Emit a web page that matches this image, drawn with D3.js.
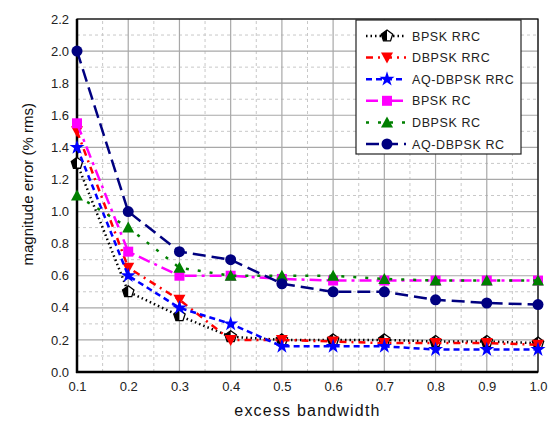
<!DOCTYPE html>
<html>
<head>
<meta charset="utf-8">
<script src="https://cdn.jsdelivr.net/npm/d3@7"></script>
<style>
  body { margin: 0; background: #fff; }
  text { font-family: "Liberation Sans", Arial, sans-serif; }
</style>
</head>
<body>
<div id="chart"></div>
<script>
var xValues = [0.1, 0.2, 0.3, 0.4, 0.5, 0.6, 0.7, 0.8, 0.9, 1.0];
var bpskRrc = [1.30, 0.50, 0.35, 0.22, 0.20, 0.20, 0.20, 0.19, 0.19, 0.18];
var dbpskRrc = [1.50, 0.65, 0.45, 0.20, 0.20, 0.19, 0.18, 0.18, 0.18, 0.17];
var aqDbpskRrc = [1.40, 0.60, 0.40, 0.30, 0.16, 0.16, 0.16, 0.14, 0.14, 0.14];
var bpskRc = [1.55, 0.75, 0.60, 0.60, 0.58, 0.57, 0.57, 0.57, 0.57, 0.57];
var dbpskRc = [1.10, 0.90, 0.65, 0.60, 0.60, 0.60, 0.58, 0.57, 0.57, 0.57];
var aqDbpskRc = [2.00, 1.00, 0.75, 0.70, 0.55, 0.50, 0.50, 0.45, 0.43, 0.42];
var seriesNames = ["BPSK RRC", "DBPSK RRC", "AQ-DBPSK RRC", "BPSK RC", "DBPSK RC", "AQ-DBPSK RC"];
var xTicks = [0.1, 0.2, 0.3, 0.4, 0.5, 0.6, 0.7, 0.8, 0.9, 1.0];
var yTicks = [0, 0.2, 0.4, 0.6, 0.8, 1.0, 1.2, 1.4, 1.6, 1.8, 2.0, 2.2];

var series = [
  { name: seriesNames[0], values: bpskRrc, color: "#000000", dash: "1.5,3", marker: "pentagon" },
  { name: seriesNames[1], values: dbpskRrc, color: "#ff0000", dash: "7,5,2,5", marker: "triDown" },
  { name: seriesNames[2], values: aqDbpskRrc, color: "#0000ff", dash: "6,4", marker: "star" },
  { name: seriesNames[3], values: bpskRc, color: "#ff00ff", dash: "12,5,3,5", marker: "square" },
  { name: seriesNames[4], values: dbpskRc, color: "#008000", dash: "3,9", marker: "triUp" },
  { name: seriesNames[5], values: aqDbpskRc, color: "#000080", dash: "13,6", marker: "circle" }
];

var width = 555, height = 423;
var margin = { left: 77, right: 17, top: 19, bottom: 51 };

var svg = d3.select("#chart").append("svg")
  .attr("width", width)
  .attr("height", height);

var x = d3.scaleLinear().domain([0.1, 1.0]).range([margin.left, width - margin.right]);
var y = d3.scaleLinear().domain([0, 2.2]).range([height - margin.bottom, margin.top]);

// minor grid
var minorX = d3.range(0.15, 1.0, 0.1);
var minorY = d3.range(0.1, 2.2, 0.2);
svg.append("g").selectAll("line").data(minorX).enter().append("line")
  .attr("x1", function (d) { return x(d); }).attr("x2", function (d) { return x(d); })
  .attr("y1", y(0)).attr("y2", y(2.2))
  .attr("stroke", "#c8c8c8").attr("stroke-dasharray", "3,3");
svg.append("g").selectAll("line").data(minorY).enter().append("line")
  .attr("y1", function (d) { return y(d); }).attr("y2", function (d) { return y(d); })
  .attr("x1", x(0.1)).attr("x2", x(1.0))
  .attr("stroke", "#c8c8c8").attr("stroke-dasharray", "3,3");

// major grid
svg.append("g").selectAll("line").data(xTicks).enter().append("line")
  .attr("x1", function (d) { return x(d); }).attr("x2", function (d) { return x(d); })
  .attr("y1", y(0)).attr("y2", y(2.2))
  .attr("stroke", "#a8a8a8").attr("stroke-width", 1.2);
svg.append("g").selectAll("line").data(yTicks).enter().append("line")
  .attr("y1", function (d) { return y(d); }).attr("y2", function (d) { return y(d); })
  .attr("x1", x(0.1)).attr("x2", x(1.0))
  .attr("stroke", "#a8a8a8").attr("stroke-width", 1.2);

// frame
svg.append("rect")
  .attr("x", x(0.1)).attr("y", y(2.2))
  .attr("width", x(1.0) - x(0.1)).attr("height", y(0) - y(2.2))
  .attr("fill", "none").attr("stroke", "#000").attr("stroke-width", 1.2);
svg.append("line").attr("x1", x(0.1)).attr("x2", x(0.1)).attr("y1", y(2.2)).attr("y2", y(0) + 1)
  .attr("stroke", "#000").attr("stroke-width", 2.5);
svg.append("line").attr("x1", x(0.1) - 1).attr("x2", x(1.0)).attr("y1", y(0)).attr("y2", y(0))
  .attr("stroke", "#000").attr("stroke-width", 2.5);

// axes labels
var xAxis = d3.axisBottom(x).tickValues(xTicks).tickSize(0).tickPadding(10).tickFormat(d3.format(".1f"));
var gx = svg.append("g").attr("transform", "translate(0," + y(0) + ")").call(xAxis);
gx.select(".domain").remove();
gx.selectAll("text").attr("font-size", 13).attr("fill", "#222");

var yAxis = d3.axisLeft(y).tickValues(yTicks).tickSize(0).tickPadding(8).tickFormat(d3.format(".1f"));
var gy = svg.append("g").attr("transform", "translate(" + x(0.1) + ",0)").call(yAxis);
gy.select(".domain").remove();
gy.selectAll("text").attr("font-size", 13).attr("fill", "#222");

svg.append("text")
  .attr("x", (x(0.1) + x(1.0)) / 2).attr("y", 416)
  .attr("text-anchor", "middle").attr("font-size", 16).attr("letter-spacing", 1.2).attr("fill", "#111")
  .text("excess bandwidth");
svg.append("text")
  .attr("transform", "translate(33," + y(1.17) + ") rotate(-90)")
  .attr("text-anchor", "middle").attr("font-size", 15).attr("fill", "#111")
  .text("magnitude error (% rms)");

function markerPath(type) {
  if (type === "pentagon") {
    var pts = d3.range(5).map(function (i) {
      var a = -Math.PI / 2 + i * 2 * Math.PI / 5;
      return [6 * Math.cos(a), 6 * Math.sin(a)];
    });
    return "M" + pts.join("L") + "Z";
  }
  if (type === "triDown") return "M-6,-5L6,-5L0,6Z";
  if (type === "triUp") return "M-6,5L6,5L0,-6Z";
  if (type === "star") return d3.symbol().type(d3.symbolStar).size(70)();
  if (type === "square") return d3.symbol().type(d3.symbolSquare).size(100)();
  return d3.symbol().type(d3.symbolCircle).size(95)();
}

function drawMarker(g, s, cx, cy) {
  var m = g.append("g").attr("transform", "translate(" + cx + "," + cy + ")");
  if (s.marker === "pentagon") {
    m.append("path").attr("d", markerPath("pentagon")).attr("fill", "#fff").attr("stroke", "#000").attr("stroke-width", 1.3);
    m.append("path").attr("d", "M0,-6L-5.7,-1.85L-3.5,4.85L0,4.85Z").attr("fill", "#000");
  } else {
    m.append("path").attr("d", markerPath(s.marker)).attr("fill", s.color);
  }
}

var line = d3.line()
  .x(function (d, i) { return x(xValues[i]); })
  .y(function (d) { return y(d); });

series.forEach(function (s) {
  var g = svg.append("g");
  g.append("path")
    .datum(s.values)
    .attr("d", line)
    .attr("fill", "none")
    .attr("stroke", s.color)
    .attr("stroke-width", 2.5)
    .attr("stroke-dasharray", s.dash);
  s.values.forEach(function (v, i) {
    drawMarker(g, s, x(xValues[i]), y(v));
  });
});

// legend
var legend = svg.append("g");
legend.append("rect")
  .attr("x", 356).attr("y", 20).attr("width", 165).attr("height", 134)
  .attr("fill", "#fff").attr("stroke", "#222").attr("stroke-width", 1.2);
series.forEach(function (s, i) {
  var ly = 36 + i * 21.6;
  var g = legend.append("g");
  g.append("line").attr("x1", 366).attr("x2", 406).attr("y1", ly).attr("y2", ly)
    .attr("stroke", s.color).attr("stroke-width", 2.5).attr("stroke-dasharray", s.dash);
  drawMarker(g, s, 387, ly);
  g.append("text").attr("x", 412).attr("y", ly + 4.5)
    .attr("font-size", 12.5).attr("letter-spacing", 0.6).attr("fill", "#222").text(s.name);
});
</script>
</body>
</html>
